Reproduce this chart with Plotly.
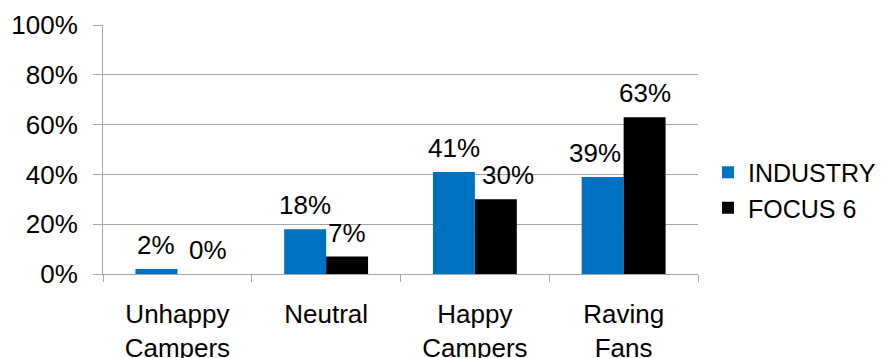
import plotly.graph_objects as go

categories = ["Unhappy<br>Campers", "Neutral", "Happy<br>Campers", "Raving<br>Fans"]
industry = [2, 18, 41, 39]
focus6 = [0, 7, 30, 63]
y_ticks = [0, 20, 40, 60, 80, 100]
y_tick_labels = [f"{v}%" for v in y_ticks]

# horizontal nudges (px) for labels that would otherwise collide
industry_shift = [0, 0, 0, -8]
focus_shift = [10, 0, 12, 0]

FONT = "Liberation Sans, Arial, sans-serif"
BLUE = "#0070C0"
GRID = "#A6A6A6"
W, H = 887, 358

fig = go.Figure()
fig.add_trace(go.Bar(name="INDUSTRY", x=categories, y=industry,
                     marker=dict(color=BLUE, line=dict(width=0))))
fig.add_trace(go.Bar(name="FOCUS 6", x=categories, y=focus6,
                     marker=dict(color="black", line=dict(width=0))))

# value labels placed above each bar
for i, cat in enumerate(categories):
    for vals, shifts, off in ((industry, industry_shift, -1), (focus6, focus_shift, 1)):
        fig.add_annotation(
            x=cat, y=vals[i], xref="x", yref="y",
            text=f"{vals[i]}%", showarrow=False,
            xshift=off * 21 + shifts[i], yshift=7, yanchor="bottom",
            font=dict(family=FONT, size=26, color="black"),
        )

fig.update_layout(
    width=W, height=H,
    margin=dict(l=103, r=189, t=25, b=84),
    paper_bgcolor="white", plot_bgcolor="white",
    barmode="group", bargap=0.436, bargroupgap=0,
    font=dict(family=FONT, size=26, color="black"),
    showlegend=True,
    legend=dict(xref="container", yref="container",
                x=708 / W, y=1 - 190 / H, xanchor="left", yanchor="middle",
                font=dict(family=FONT, size=25, color="black"),
                itemwidth=30, tracegroupgap=0, bgcolor="rgba(0,0,0,0)"),
)
fig.update_xaxes(
    type="category", tickson="boundaries", ticks="outside", ticklen=7,
    tickcolor=GRID, tickwidth=1, showline=True, linecolor=GRID, linewidth=1,
    showgrid=False, automargin=False, ticklabelstandoff=17,
)
fig.update_yaxes(
    range=[0, 100], tickvals=y_ticks, ticktext=y_tick_labels,
    showgrid=True, gridcolor=GRID, gridwidth=1,
    ticks="outside", ticklen=9, tickcolor=GRID, tickwidth=1,
    showline=True, linecolor=GRID, linewidth=1, zeroline=False,
    automargin=False, ticklabelstandoff=10,
)

fig.write_html("out.html")
